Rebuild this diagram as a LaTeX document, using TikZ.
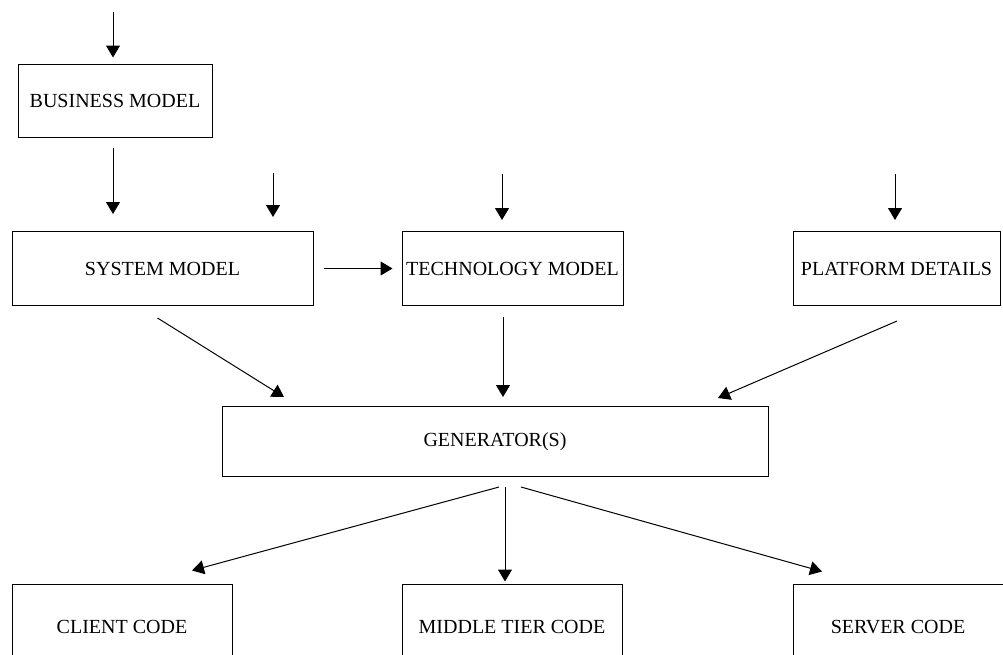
\documentclass[tikz,border=0pt]{standalone}
\usepackage{fontspec}
\setmainfont{Liberation Serif}
\usetikzlibrary{arrows.meta,calc}

\begin{document}
\begin{tikzpicture}[x=1pt,y=-1pt,
  mdlbox/.style={shape=rectangle,draw=black,line width=1pt,inner sep=0pt,font=\fontsize{20}{22}\selectfont},
  arr/.style={line width=1pt,-{Triangle[width=14pt,length=12pt]}}]
 \useasboundingbox (0,0) rectangle (1003,654);
 \clip (0,0) rectangle (1003,654);
 \node (bm) at (115,100.5) [mdlbox,minimum width=194pt,minimum height=73pt] {BUSINESS MODEL};
 \node (sm) at (162.5,268.5) [mdlbox,minimum width=301pt,minimum height=74pt] {SYSTEM MODEL};
 \node (tm) at (512.5,268.5) [mdlbox,minimum width=221pt,minimum height=74pt] {TECHNOLOGY MODEL};
 \node (pd) at (896.5,268.5) [mdlbox,minimum width=207pt,minimum height=74pt] {PLATFORM DETAILS};
 \node (gen) at (495,441.5) [mdlbox,minimum width=546pt,minimum height=70pt] {GENERATOR(S)};
 \node (cc) at (122,627) [mdlbox,minimum width=220pt,minimum height=86pt] {CLIENT CODE};
 \node (mt) at (512,627) [mdlbox,minimum width=220pt,minimum height=86pt] {MIDDLE TIER CODE};
 \node (sc) at (898,627) [mdlbox,minimum width=210pt,minimum height=86pt] {SERVER CODE};
 \coordinate (bm in) at (113,12);
 \coordinate (sm in) at (273,173);
 \coordinate (tm in) at (502,174);
 \coordinate (pd in) at (895,174);
 \draw[arr] (bm in) -- ($(bm.north)+(-2,-6)$);
 \draw[arr] ($(bm.south)+(-2,10)$) -- ($(sm.north)+(-49.5,-17)$);
 \draw[arr] (sm in) -- ($(sm.north)+(110.5,-14)$);
 \draw[arr] ($(sm.east)+(10,0)$) -- ($(tm.west)+(-9,0)$);
 \draw[arr] (tm in) -- ($(tm.north)+(-10.5,-11)$);
 \draw[arr] (pd in) -- ($(pd.north)+(-1.5,-11)$);
 \draw[arr] ($(sm.south)+(-5,12)$) -- ($(gen.north)+(-211,-9)$);
 \draw[arr] ($(tm.south)+(-9.5,11)$) -- ($(gen.north)+(8,-9)$);
 \draw[arr] ($(pd.south)+(0.5,15)$) -- ($(gen.north)+(223,-8)$);
 \draw[arr] ($(gen.south)+(4,10)$) -- ($(cc.north)+(70,-13)$);
 \draw[arr] ($(gen.south)+(10,10)$) -- ($(mt.north)+(-7,-2)$);
 \draw[arr] ($(gen.south)+(26,10)$) -- ($(sc.north)+(-76,-12)$);
\end{tikzpicture}
\end{document}
